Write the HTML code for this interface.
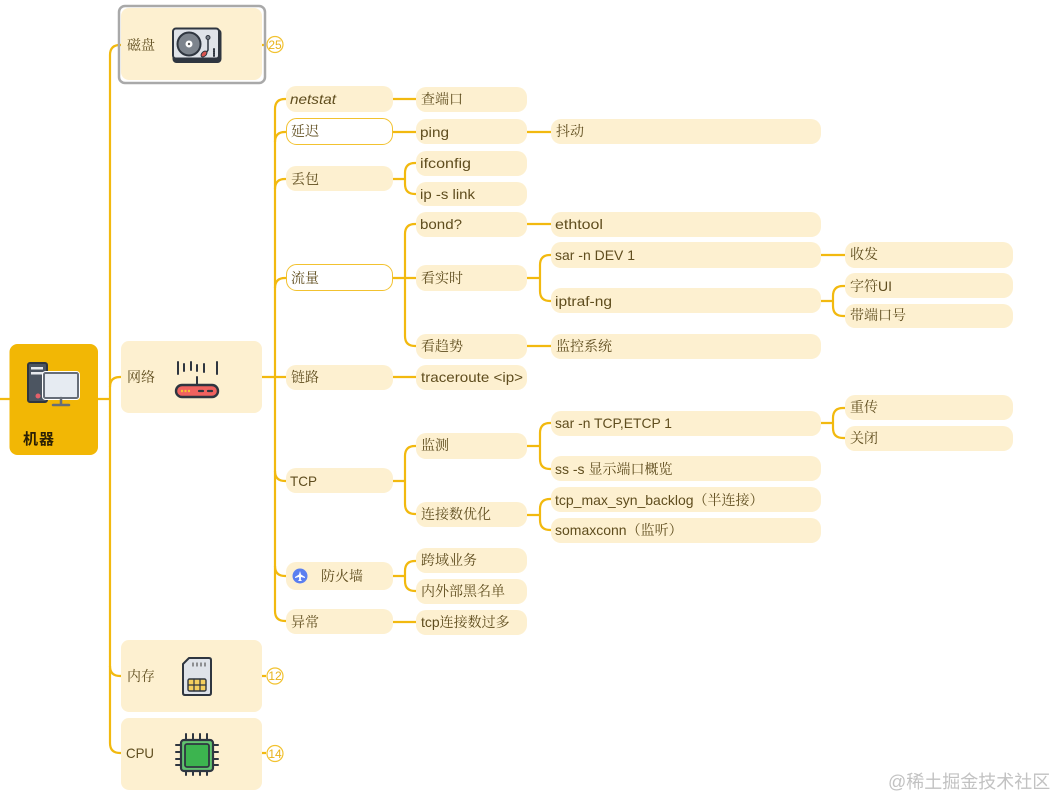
<!DOCTYPE html>
<html><head><meta charset="utf-8">
<style>
html,body{margin:0;padding:0;background:#fff;width:1054px;height:800px;overflow:hidden}
svg{display:block}
text{font-family:"Liberation Sans","Noto Serif CJK SC",serif;font-size:14px;fill:#5f4d1e}
.c{stroke:#f2b90f;stroke-width:2.200;fill:none}
.n rect{fill:#fdf0d0}
rect.w{fill:#fff !important;stroke:#f2c230;stroke-width:1}
.d{stroke:#2f3640;stroke-width:2;stroke-linejoin:round;stroke-linecap:round}
</style></head><body>
<svg width="1054" height="800" viewBox="0 0 1054 800" xmlns="http://www.w3.org/2000/svg">
<!-- connectors -->
<g class="c">
<path d="M0 399H10M98 399H110"/>
<path d="M122 45H120Q110 45 110 55V743Q110 753 120 753H122"/>
<path d="M110 387Q110 377 120 377H122M110 666Q110 676 120 676H122"/>
<path d="M262 45H266M262 676H266M262 753H266"/>
<path d="M262 377H287"/>
<path d="M287 99H285Q275 99 275 109V611Q275 621 285 621H287"/>
<path d="M275 142Q275 132 285 132H287M275 189Q275 179 285 179H287M275 288Q275 278 285 278H287M275 471Q275 481 285 481H287M275 566Q275 576 285 576H287"/>
<path d="M393 99H417M393 132H417M393 377H417M393 622H417M527 132H552M527 224H552M527 346H552M820 255H846"/>
<path d="M393 179H405M417 163H415Q405 163 405 173V184Q405 194 415 194H417"/>
<path d="M393 278H417M417 224H415Q405 224 405 234V336Q405 346 415 346H417"/>
<path d="M393 481H405M417 446H415Q405 446 405 456V504Q405 514 415 514H417"/>
<path d="M393 576H405M417 561H415Q405 561 405 571V581Q405 591 415 591H417"/>
<path d="M527 278H540M552 255H550Q540 255 540 265V291Q540 301 550 301H552"/>
<path d="M527 446H540M552 423H550Q540 423 540 433V459Q540 469 550 469H552"/>
<path d="M527 515H540M552 499H550Q540 499 540 509V520Q540 530 550 530H552"/>
<path d="M820 301H833M846 286H843Q833 286 833 296V306Q833 316 843 316H846"/>
<path d="M820 423H833M846 408H843Q833 408 833 418V428Q833 438 843 438H846"/>
</g>
<!-- count badges -->
<g fill="#fff" stroke="#f2c230" stroke-width="1.200">
<circle cx="275" cy="44.500" r="8"/><circle cx="275" cy="676" r="8"/><circle cx="275" cy="753.500" r="8"/>
</g>
<g text-anchor="middle">
<text x="275" y="49" style="font-size:12px;fill:#e8b21a">25</text>
<text x="275" y="680" style="font-size:12px;fill:#e8b21a">12</text>
<text x="275" y="758" style="font-size:12px;fill:#e8b21a">14</text>
</g>
<!-- root -->
<rect x="9.500" y="344" width="88.500" height="111" rx="8" fill="#f2b705"/>
<text x="23" y="444" style="font-size:15px;font-weight:700;fill:#2a1f05;font-family:'Noto Sans CJK SC',sans-serif;letter-spacing:1px">机器</text>
<!-- level 1 -->
<g class="n">
<rect x="121" y="8" width="141" height="72" rx="8"/>
<rect x="121" y="341" width="141" height="72" rx="8"/>
<rect x="121" y="640" width="141" height="72" rx="8"/>
<rect x="121" y="718" width="141" height="72" rx="8"/>
</g>
<rect x="119" y="6" width="146" height="77" rx="6" fill="none" stroke="#a9a9a9" stroke-width="2.500"/>
<!-- level 2-5 nodes -->
<g class="n">
<rect x="286" y="86" width="107" height="26" rx="10"/>
<rect class="w" x="286.500" y="118.500" width="106" height="26" rx="10"/>
<rect x="286" y="166" width="107" height="25" rx="10"/>
<rect class="w" x="286.500" y="264.500" width="106" height="26" rx="10"/>
<rect x="286" y="365" width="107" height="25" rx="10"/>
<rect x="286" y="468" width="107" height="25" rx="10"/>
<rect x="286" y="562" width="107" height="28" rx="10"/>
<rect x="286" y="609" width="107" height="25" rx="10"/>

<rect x="416" y="87" width="111" height="25" rx="10"/>
<rect x="416" y="119" width="111" height="25" rx="10"/>
<rect x="416" y="151" width="111" height="25" rx="10"/>
<rect x="416" y="182" width="111" height="24" rx="10"/>
<rect x="416" y="212" width="111" height="25" rx="10"/>
<rect x="416" y="265" width="111" height="26" rx="10"/>
<rect x="416" y="334" width="111" height="25" rx="10"/>
<rect x="416" y="365" width="111" height="25" rx="10"/>
<rect x="416" y="433" width="111" height="26" rx="10"/>
<rect x="416" y="502" width="111" height="25" rx="10"/>
<rect x="416" y="548" width="111" height="25" rx="10"/>
<rect x="416" y="579" width="111" height="25" rx="10"/>
<rect x="416" y="610" width="111" height="25" rx="10"/>

<rect x="551" y="119" width="270" height="25" rx="10"/>
<rect x="551" y="212" width="270" height="25" rx="10"/>
<rect x="551" y="242" width="270" height="26" rx="10"/>
<rect x="551" y="288" width="270" height="25" rx="10"/>
<rect x="551" y="334" width="270" height="25" rx="10"/>
<rect x="551" y="411" width="270" height="25" rx="10"/>
<rect x="551" y="456" width="270" height="25" rx="10"/>
<rect x="551" y="487" width="270" height="25" rx="10"/>
<rect x="551" y="518" width="270" height="25" rx="10"/>

<rect x="845" y="242" width="168" height="26" rx="10"/>
<rect x="845" y="273" width="168" height="25" rx="10"/>
<rect x="845" y="304" width="168" height="24" rx="10"/>
<rect x="845" y="395" width="168" height="25" rx="10"/>
<rect x="845" y="426" width="168" height="25" rx="10"/>
</g>
<!-- labels -->
<g>
<text x="127" y="50">磁盘</text>
<text x="127" y="382">网络</text>
<text x="127" y="681">内存</text>
<text x="126" y="758" textLength="28" lengthAdjust="spacingAndGlyphs">CPU</text>

<text x="290" y="104" style="font-style:italic" textLength="46" lengthAdjust="spacingAndGlyphs">netstat</text>
<text x="291" y="136">延迟</text>
<text x="291" y="184">丢包</text>
<text x="291" y="283">流量</text>
<text x="291" y="382">链路</text>
<text x="290" y="486" textLength="27" lengthAdjust="spacingAndGlyphs">TCP</text>
<text x="321" y="581">防火墙</text>
<text x="291" y="627">异常</text>

<text x="421" y="104">查端口</text>
<text x="420" y="137" textLength="29" lengthAdjust="spacingAndGlyphs">ping</text>
<text x="420" y="168" textLength="51" lengthAdjust="spacingAndGlyphs">ifconfig</text>
<text x="420" y="199" textLength="55" lengthAdjust="spacingAndGlyphs">ip -s link</text>
<text x="420" y="229" textLength="42" lengthAdjust="spacingAndGlyphs">bond?</text>
<text x="421" y="283">看实时</text>
<text x="421" y="351">看趋势</text>
<text x="421" y="382" textLength="102" lengthAdjust="spacingAndGlyphs">traceroute &lt;ip&gt;</text>
<text x="421" y="450">监测</text>
<text x="421" y="519">连接数优化</text>
<text x="421" y="565">跨域业务</text>
<text x="421" y="596">内外部黑名单</text>
<text x="421" y="627">tcp连接数过多</text>

<text x="556" y="136">抖动</text>
<text x="555" y="229" textLength="48" lengthAdjust="spacingAndGlyphs">ethtool</text>
<text x="555" y="260" textLength="80" lengthAdjust="spacingAndGlyphs">sar -n DEV 1</text>
<text x="555" y="306" textLength="57" lengthAdjust="spacingAndGlyphs">iptraf-ng</text>
<text x="556" y="351">监控系统</text>
<text x="555" y="428" textLength="117" lengthAdjust="spacingAndGlyphs">sar -n TCP,ETCP 1</text>
<text x="555" y="474">ss -s 显示端口概览</text>
<text x="555" y="505">tcp_max_syn_backlog（半连接）</text>
<text x="555" y="535">somaxconn（监听）</text>

<text x="850" y="259">收发</text>
<text x="850" y="291">字符UI</text>
<text x="850" y="320">带端口号</text>
<text x="850" y="412">重传</text>
<text x="850" y="443">关闭</text>
</g>
<!-- firewall badge -->
<circle cx="300" cy="576" r="7.500" fill="#5b7ff0"/>
<path d="M300 571L301 574.500L305 577V578L301 577L300.800 579.500L302 581H298L299.200 579.500L299 577L295 578V577L299 574.500Z" fill="#fff"/>
<!-- root icon: computer -->
<g class="d">
<rect x="28" y="363" width="19" height="39" rx="2" fill="#4c5561" stroke="#2f3640"/>
<rect x="31" y="367" width="12" height="2.500" fill="#e8eaee" stroke="none"/>
<rect x="31" y="372" width="12" height="2.500" fill="#e8eaee" stroke="none"/>
<circle cx="38" cy="396" r="2.500" fill="#e4606a" stroke="none"/>
<rect x="44" y="373" width="34" height="25" rx="1.500" fill="#edf1f6" stroke="#fff" stroke-width="4"/>
<rect x="44" y="373" width="34" height="25" rx="1.500" fill="#e6ebf2" stroke="#666d78" stroke-width="2"/>
<path d="M61 398V404M53 405H69" stroke="#666d78" stroke-width="2.500"/>
</g>
<!-- disk: turntable -->
<g class="d">
<rect x="173.500" y="30" width="47" height="32" rx="3" fill="#2f3640"/>
<rect x="173" y="28.500" width="46" height="30" rx="3" fill="#dfe3e9"/>
<circle cx="189" cy="44" r="11.500" fill="#7d848d"/>
<circle cx="189" cy="44" r="3.500" fill="#fff" stroke="none"/>
<circle cx="189" cy="44" r="1.200" fill="#555" stroke="none"/>
<path d="M208 36V50L205 55" fill="none" stroke-width="1.500"/>
<circle cx="208" cy="37.500" r="2" fill="#7d848d" stroke-width="1"/>
<ellipse cx="204" cy="54" rx="3.500" ry="2.200" fill="#d9534f" stroke-width="1" transform="rotate(-45 204 54)"/>
<path d="M214 49V56" stroke-width="2" stroke-dasharray="1 1"/>
</g>
<!-- network router -->
<g class="d" fill="none">
<path d="M178 362V374M184 364V371M191 362V370M197 365V371M204 364V372M217 362V374M197 377V385" stroke-width="2"/>
<rect x="176" y="385" width="42" height="12" rx="6" fill="#f0625f" stroke-width="2.400"/>
<path d="M181 391H190" stroke="#f4c430" stroke-width="2.200" stroke-dasharray="2 1.500" stroke-linecap="butt"/>
<path d="M199 391H203M208 391H212" stroke-width="2.200"/>
</g>
<!-- memory: SIM -->
<g class="d">
<path d="M189 658H209Q211 658 211 660V693Q211 695 209 695H185Q183 695 183 693V664Z" fill="#dfe3e9"/>
<rect x="188" y="679" width="18" height="12" rx="1.500" fill="#f4cf5e" stroke-width="1.400"/>
<path d="M194 679V691M200 679V691M188 685H206" stroke-width="1.200"/>
<path d="M193 663V666M197 663V666M201 663V666M205 663V666" stroke-width="1.200" stroke="#555"/>
</g>
<!-- CPU -->
<g class="d">
<path d="M186 734V742M193 734V742M200 734V742M207 734V742M186 768V775M193 768V775M200 768V775M207 768V775M176 745H183M176 752H183M176 759H183M176 765H183M211 745H218M211 752H218M211 759H218M211 765H218" stroke-width="2"/>
<rect x="181" y="740" width="32" height="31" rx="3" fill="#62c370" stroke-width="2.200"/>
<rect x="185" y="744" width="24" height="23" rx="2" fill="#3cb44f" stroke-width="1.800"/>
</g>
<!-- watermark -->
<text x="888" y="788" style="font-size:18px;fill:#c2c2c2;font-family:'Liberation Sans','Noto Sans CJK SC',sans-serif">@稀土掘金技术社区</text>
</svg>
</body></html>
